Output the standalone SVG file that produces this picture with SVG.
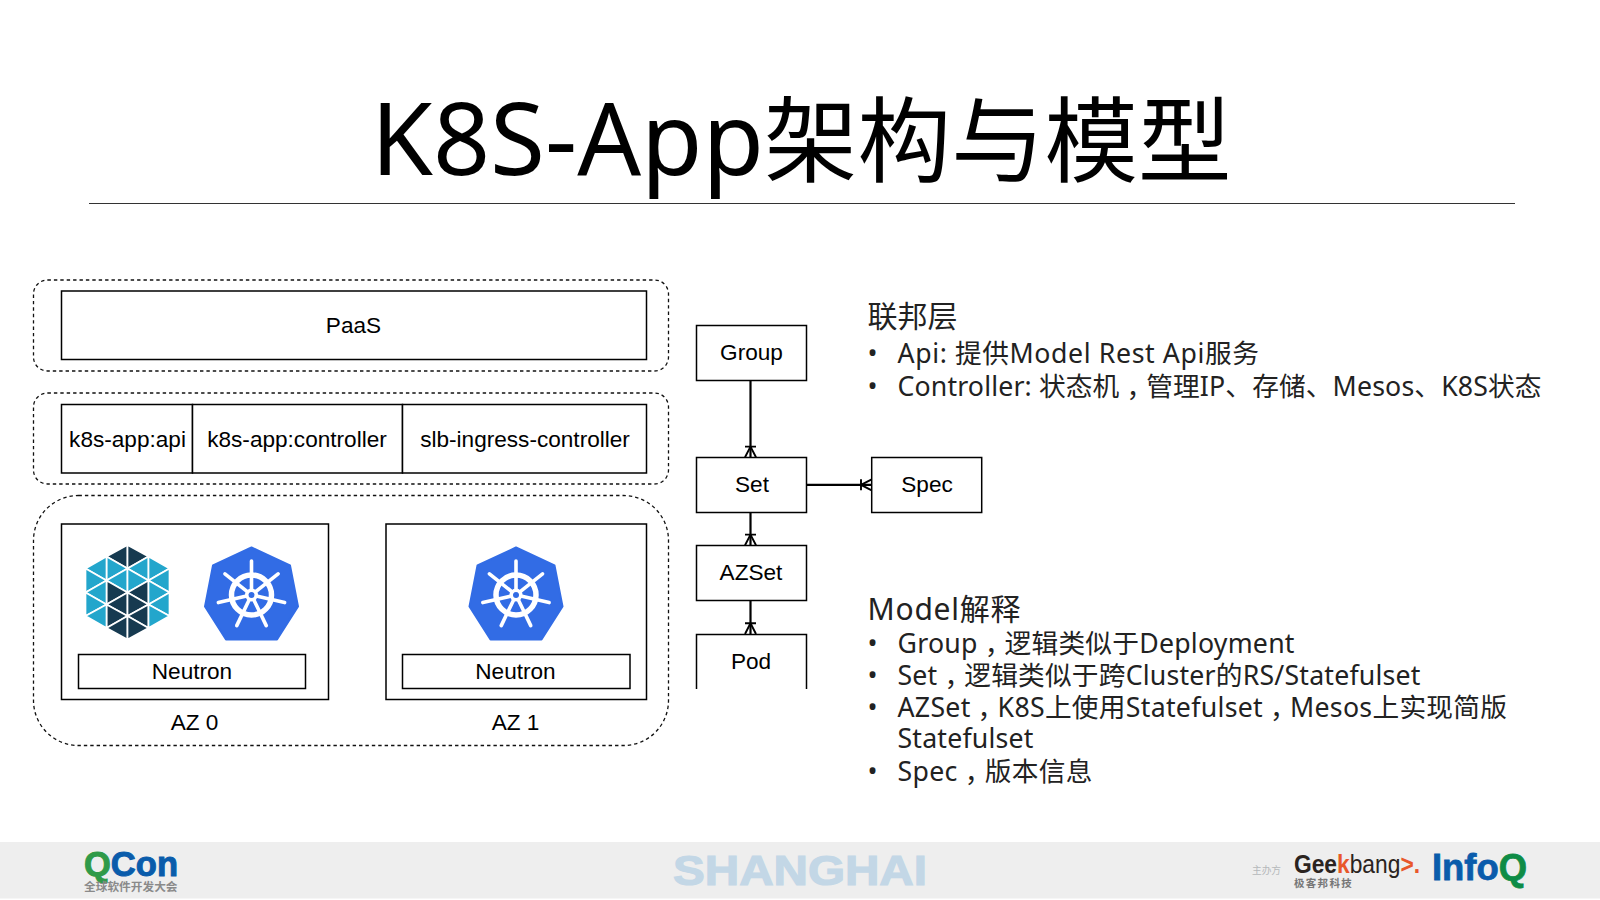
<svg xmlns="http://www.w3.org/2000/svg" xmlns:xlink="http://www.w3.org/1999/xlink" width="1600" height="900" viewBox="0 0 1600 900">
<style>
.box{fill:#fff;stroke:#000;stroke-width:1.5}
.open{fill:#fff;stroke:#000;stroke-width:1.5}
.dash{fill:#fff;stroke:#111;stroke-width:1.3;stroke-dasharray:3.4 3}
.t{font-family:"Liberation Sans",Arial,sans-serif;font-size:22.600px;fill:#000;text-anchor:middle}
.title{font-family:"Noto Sans","Noto Sans CJK SC",sans-serif;font-size:93.500px;fill:#000}
.lat{font-size:100px}
.h{font-family:"Noto Sans","Noto Sans CJK SC",sans-serif;font-size:30px;fill:#222}
.b{font-family:"Noto Sans","Noto Sans CJK SC",sans-serif;font-size:26.700px;fill:#222}
.cm{font-family:"Noto Sans CJK TC",sans-serif}
.conn{fill:none;stroke:#000;stroke-width:2.200;marker-end:url(#crow)}
.l{fill:#23a6cc}.d{fill:#163a50}
.sp{stroke:#fff;stroke-width:3.600;stroke-linecap:round;fill:none}
</style>
<defs>
<marker id="crow" markerUnits="userSpaceOnUse" markerWidth="14" markerHeight="14" viewBox="-12 -7 14 14" refX="0" refY="0" orient="auto">
<path d="M-10.700 -5.500V5.500M-10.700 0L0 -5.500M-10.700 0L0 5.500" fill="none" stroke="#000" stroke-width="1.900"/>
</marker>
<g id="k8s">
<path d="M0 -47.500L38.500 -29.500L46.500 11.500L25.500 44.500H-25.500L-46.500 11.500L-38.500 -29.500Z" fill="#326ce5" stroke="#326ce5" stroke-width="2" stroke-linejoin="round"/>
<circle r="20" fill="none" stroke="#fff" stroke-width="5.500"/>
<circle r="6.500" fill="#fff"/>
<circle r="3" fill="#326ce5"/>
<g class="sp">
<path d="M0 -5V-34"/>
<path d="M0 -5V-34" transform="rotate(51.400)"/>
<path d="M0 -5V-34" transform="rotate(102.900)"/>
<path d="M0 -5V-34" transform="rotate(154.300)"/>
<path d="M0 -5V-34" transform="rotate(-51.400)"/>
<path d="M0 -5V-34" transform="rotate(-102.900)"/>
<path d="M0 -5V-34" transform="rotate(-154.300)"/>
</g>
</g>
</defs>
<rect width="1600" height="900" fill="#fff"/>
<g id="header">
<text class="title" x="371" y="175"><tspan class="lat">K8S-App</tspan>架构与模型</text>
<line x1="89" y1="203.500" x2="1515" y2="203.500" stroke="#333" stroke-width="1.200"/>
</g>
<g id="layer-paas">
<rect class="dash" x="33.500" y="280" width="635" height="91" rx="14"/>
<rect class="box" x="61.500" y="291" width="585" height="68.500"/>
<text class="t" x="353.500" y="332.500">PaaS</text>
</g>
<g id="layer-app">
<rect class="dash" x="33.500" y="393" width="635" height="91" rx="14"/>
<rect class="box" x="61.500" y="404.500" width="131" height="68.500"/>
<rect class="box" x="192.500" y="404.500" width="210" height="68.500"/>
<rect class="box" x="402.500" y="404.500" width="244" height="68.500"/>
<text class="t" x="127.500" y="446.500">k8s-app:api</text>
<text class="t" x="297" y="446.500">k8s-app:controller</text>
<text class="t" x="525" y="446.500">slb-ingress-controller</text>
</g>
<g id="layer-az">
<rect class="dash" x="33.500" y="495.500" width="635" height="250" rx="45"/>
</g>
<g id="az0">
<rect class="box" x="61.500" y="524" width="267" height="175.500"/>
<g id="neutron-logo" stroke="#fff" stroke-width="1.700" transform="translate(0,-0.500)">
<path class="d" d="M127.500 545.500V569L106.500 557Z"/><path class="l" d="M106.500 557V581L127.500 569Z"/><path class="l" d="M127.500 569V593L106.500 581Z"/><path class="d" d="M106.500 581V605L127.500 593Z"/><path class="d" d="M127.500 593V616.500L106.500 605Z"/><path class="d" d="M106.500 605V628.500L127.500 616.500Z"/><path class="d" d="M127.500 616.500V640L106.500 628.500Z"/>
<path class="d" d="M127.500 545.500V569L148.500 557Z"/><path class="l" d="M148.500 557V581L127.500 569Z"/><path class="l" d="M127.500 569V593L148.500 581Z"/><path class="d" d="M148.500 581V605L127.500 593Z"/><path class="d" d="M127.500 593V616.500L148.500 605Z"/><path class="d" d="M148.500 605V628.500L127.500 616.500Z"/><path class="d" d="M127.500 616.500V640L148.500 628.500Z"/>
<path class="l" d="M106.500 557V581L85.500 569Z"/><path class="l" d="M85.500 569V593L106.500 581Z"/><path class="l" d="M106.500 581V605L85.500 593Z"/><path class="l" d="M85.500 593V616.500L106.500 605Z"/><path class="l" d="M106.500 605V628.500L85.500 616.500Z"/>
<path class="l" d="M148.500 557V581L169.500 569Z"/><path class="l" d="M169.500 569V593L148.500 581Z"/><path class="l" d="M148.500 581V605L169.500 593Z"/><path class="l" d="M169.500 593V616.500L148.500 605Z"/><path class="l" d="M148.500 605V628.500L169.500 616.500Z"/>
</g>
<use xlink:href="#k8s" href="#k8s" x="251.500" y="595"/>
<rect class="box" x="78.500" y="654.500" width="227" height="34"/>
<text class="t" x="192" y="678.500">Neutron</text>
<text class="t" x="194.500" y="730">AZ 0</text>
</g>
<g id="az1">
<rect class="box" x="386" y="524" width="260.500" height="175.500"/>
<use xlink:href="#k8s" href="#k8s" x="516" y="595"/>
<rect class="box" x="402.500" y="654.500" width="227.500" height="34"/>
<text class="t" x="515.500" y="678.500">Neutron</text>
<text class="t" x="515.500" y="730">AZ 1</text>
</g>
<g id="connectors">
<path class="conn" d="M750.500 380.300V457.300"/>
<path class="conn" d="M806.700 484.800H871.700"/>
<path class="conn" d="M750.500 512.300V545.300"/>
<path class="conn" d="M750.500 600.300V634"/>
</g>
<g id="group"><rect class="box" x="696.500" y="325.500" width="110" height="55"/><text class="t" x="751.500" y="360">Group</text></g>
<g id="set"><rect class="box" x="696.500" y="457.500" width="110" height="55"/><text class="t" x="752" y="492">Set</text></g>
<g id="spec"><rect class="box" x="871.700" y="457.500" width="110" height="55"/><text class="t" x="927" y="492">Spec</text></g>
<g id="azset"><rect class="box" x="696.500" y="545.500" width="110" height="55"/><text class="t" x="751" y="580">AZSet</text></g>
<g id="pod"><path class="open" d="M696.500 689V634.500H806.500V689"/><text class="t" x="751" y="669">Pod</text></g>
<g id="notes-federation">
<text class="h" x="867.500" y="327">联邦层</text>
<text class="b" x="867.500" y="363">•</text><text class="b" x="897.500" y="363" textLength="361.500" lengthAdjust="spacing">Api: 提供Model Rest Api服务</text>
<text class="b" x="867.500" y="395.500">•</text><text class="b" x="897.500" y="395.500" textLength="644" lengthAdjust="spacing">Controller: 状态机<tspan class="cm" dy="9">，</tspan><tspan dy="-9">管理IP、存储、Mesos、K8S状态</tspan></text>
</g>
<g id="notes-model">
<text class="h" x="867.500" y="620" textLength="153" lengthAdjust="spacing">Model解释</text>
<text class="b" x="867.500" y="652.500">•</text><text class="b" x="897.500" y="652.500" textLength="397" lengthAdjust="spacing">Group<tspan class="cm" dy="9">，</tspan><tspan dy="-9">逻辑类似于Deployment</tspan></text>
<text class="b" x="867.500" y="684.500">•</text><text class="b" x="897.500" y="684.500" textLength="523" lengthAdjust="spacing">Set<tspan class="cm" dy="9">，</tspan><tspan dy="-9">逻辑类似于跨Cluster的RS/Statefulset</tspan></text>
<text class="b" x="867.500" y="717">•</text><text class="b" x="897.500" y="717" textLength="609.500" lengthAdjust="spacing">AZSet<tspan class="cm" dy="9">，</tspan><tspan dy="-9">K8S上使用Statefulset</tspan><tspan class="cm" dy="9">，</tspan><tspan dy="-9">Mesos上实现简版</tspan></text>
<text class="b" x="897.500" y="748" textLength="136" lengthAdjust="spacing">Statefulset</text>
<text class="b" x="867.500" y="781">•</text><text class="b" x="897.500" y="781" textLength="195" lengthAdjust="spacing">Spec<tspan class="cm" dy="9">，</tspan><tspan dy="-9">版本信息</tspan></text>
</g>
<g id="footer">
<rect y="842" width="1600" height="56.500" fill="#eeeeee"/>
<g id="qcon-logo">
<text x="84" y="876" font-family="'Liberation Sans',sans-serif" font-weight="700" font-size="35" textLength="94" lengthAdjust="spacingAndGlyphs" fill="#0a5cab" stroke="#0a5cab" stroke-width="1"><tspan fill="#2f9a48" stroke="#2f9a48">Q</tspan>Con</text>
<text x="84" y="891" font-family="'Noto Sans CJK SC',sans-serif" font-size="11.700" font-weight="700" fill="#8a8a8a">全球软件开发大会</text>
</g>
<text id="shanghai" x="673" y="885" font-family="'Liberation Sans',sans-serif" font-weight="700" font-size="42" textLength="254" lengthAdjust="spacingAndGlyphs" fill="#c3d7e6" stroke="#c3d7e6" stroke-width="1.200">SHANGHAI</text>
<g id="geekbang-logo">
<text x="1252" y="874" font-family="'Noto Sans CJK SC',sans-serif" font-size="9.700" fill="#b5b8ba">主办方</text>
<text x="1294" y="873" font-family="'Liberation Sans',sans-serif" font-size="25" textLength="126" lengthAdjust="spacingAndGlyphs" fill="#2a2320"><tspan font-weight="700">Gee</tspan><tspan font-weight="700" fill="#e8572a">k</tspan>bang<tspan font-weight="700" fill="#e8572a">&gt;.</tspan></text>
<text x="1294" y="887" font-family="'Noto Sans CJK SC',sans-serif" font-size="10.500" font-weight="700" letter-spacing="1.300" fill="#777">极客邦科技</text>
</g>
<g id="infoq-logo">
<text x="1432" y="880" font-family="'Liberation Sans',sans-serif" font-weight="700" font-size="36" textLength="95" lengthAdjust="spacingAndGlyphs" fill="#0a5cab" stroke="#0a5cab" stroke-width="0.800">Info<tspan fill="#0e8c46" stroke="#0e8c46">Q</tspan></text>
</g>
</g>
</svg>
